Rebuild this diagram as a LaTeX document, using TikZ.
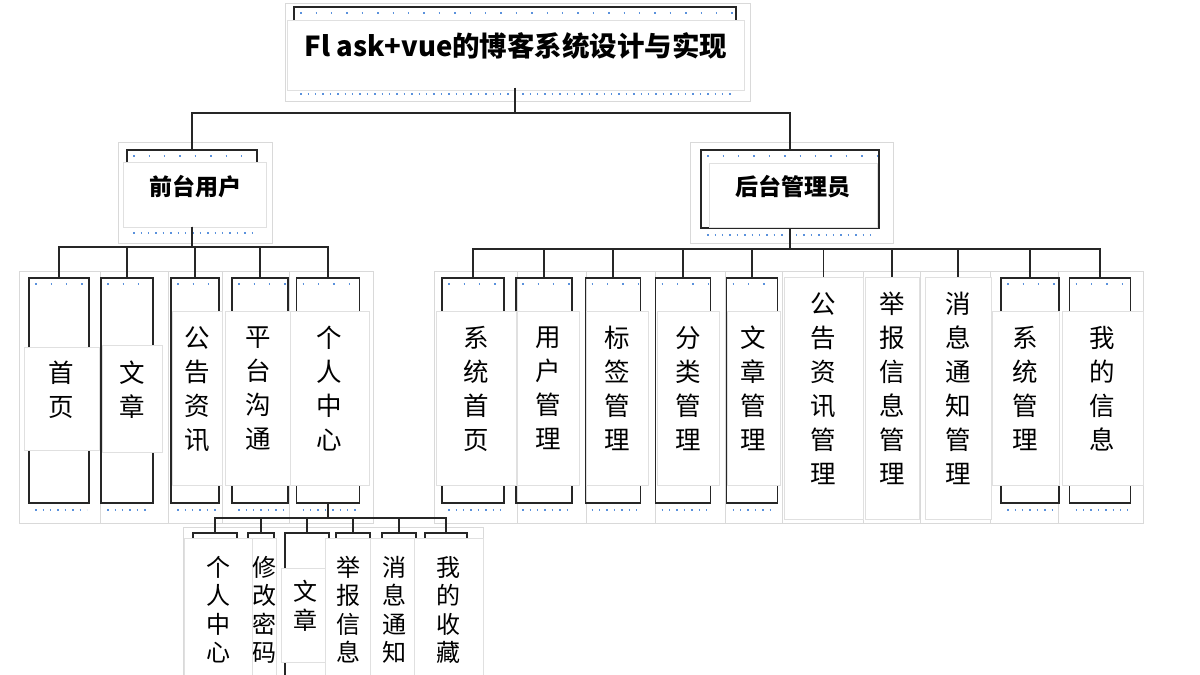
\documentclass[tikz,border=0pt]{standalone}
\usepackage{fontspec}
\newfontfamily\cjk{Noto Sans CJK SC}
\definecolor{dotblue}{RGB}{90,145,220}
\tikzset{
  light/.style={draw=black!15, line width=0.8pt},
  frame/.style={draw=black!85, line width=1.8pt, inner sep=0pt},
  dots/.style={draw=dotblue, line width=1.4pt, dash pattern=on 1.4pt off 14pt},
  fdots/.style={draw=dotblue, line width=1.4pt, dash pattern=on 1.4pt off 6pt},
  box/.style={draw=black!12, fill=white, line width=0.8pt, inner sep=0pt,
    align=center, text depth=20pt, font=\cjk\fontsize{25.5}{34}\selectfont},
  gbox/.style={box, font=\cjk\fontsize{24}{28.5}\selectfont},
  head/.style={box, font=\cjk\bfseries\fontsize{23}{28}\selectfont},
  link/.style={draw=black!85, line width=1.8pt},
}
\begin{document}
\begin{tikzpicture}[x=1pt,y=-1pt]
\useasboundingbox (0,0) rectangle (1200,675);
\clip (0,0) rectangle (1200,675);

\draw[light] (285,3) rectangle (750,101);
\draw[light] (118,142) rectangle (272,243);
\draw[light] (690,142) rectangle (893,243);
\foreach \a/\b in {19/100,100/168,168/222,222/289,289/373,434/517,517/586,586/655,
  655/725,725/782,782/863,863/920,920/990,990/1058,1058/1143}
  \draw[light] (\a,271) rectangle (\b,523);
\draw[light] (183,527) rectangle (483,690);

\node[frame, minimum width=442, minimum height=80] (tf) at (515,47) {};
\node[frame, minimum width=130, minimum height=76] (qf) at (192,188) {};
\node[frame, minimum width=178, minimum height=78] (hf) at (790,189) {};

\node[frame, minimum width=60, minimum height=225] (cf1) at (59,390.5) {};
\node[frame, minimum width=52, minimum height=225] (cf2) at (127,390.5) {};
\node[frame, minimum width=48, minimum height=225] (cf3) at (195,390.5) {};
\node[frame, minimum width=56, minimum height=225] (cf4) at (260,390.5) {};
\node[frame, minimum width=63, minimum height=225] (cf5) at (328,390.5) {};

\node[frame, minimum width=62, minimum height=225] (rf1) at (473,390.5) {};
\node[frame, minimum width=56, minimum height=225] (rf2) at (544,390.5) {};
\node[frame, minimum width=55, minimum height=225] (rf3) at (613,390.5) {};
\node[frame, minimum width=55, minimum height=225] (rf4) at (683,390.5) {};
\node[frame, minimum width=51, minimum height=225] (rf5) at (752,390.5) {};
\node[frame, minimum width=58, minimum height=225] (rf9) at (1030,390.5) {};
\node[frame, minimum width=61, minimum height=225] (rf10) at (1100,390.5) {};

\node[frame, minimum width=44, minimum height=170] (gf1) at (215,618) {};
\node[frame, minimum width=26, minimum height=170] (gf2) at (261,618) {};
\node[frame, minimum width=44, minimum height=170] (gf3) at (307,618) {};
\node[frame, minimum width=34, minimum height=170] (gf4) at (353,618) {};
\node[frame, minimum width=34, minimum height=170] (gf5) at (399,618) {};
\node[frame, minimum width=42, minimum height=170] (gf6) at (446,618) {};

\foreach \n in {tf,qf,hf,cf1,cf2,cf3,cf4,cf5,rf1,rf2,rf3,rf4,rf5,rf9,rf10} {
  \draw[dots] ([xshift=7,yshift=-7]\n.north west) -- ([xshift=-3,yshift=-7]\n.north east);
  \draw[fdots] ([xshift=7,yshift=-6]\n.south west) -- ([xshift=-3,yshift=-6]\n.south east);
}

\node[head, minimum width=457, minimum height=70, font=\cjk\bfseries\fontsize{27.5}{30}\selectfont] (title) at (516,55) {Fl ask+vue的博客系统设计与实现};
\node[head, minimum width=143, minimum height=65] (qt) at (195,195) {前台用户};
\node[head, minimum width=168, minimum height=64] (ht) at (793,195) {后台管理员};

\node[box, minimum width=75, minimum height=103] (c1) at (61.5,398.5) {首\\页};
\node[box, minimum width=60, minimum height=107] (c2) at (132,398.5) {文\\章};
\node[box, minimum width=50, minimum height=174] (c3) at (197,398) {公\\告\\资\\讯};
\node[box, minimum width=65, minimum height=174] (c4) at (258,398) {平\\台\\沟\\通};
\node[box, minimum width=79, minimum height=174] (c5) at (329.5,398) {个\\人\\中\\心};

\node[box, minimum width=80, minimum height=174] (r1) at (476,398) {系\\统\\首\\页};
\node[box, minimum width=62, minimum height=174] (r2) at (548,398) {用\\户\\管\\理};
\node[box, minimum width=62, minimum height=174] (r3) at (617,398) {标\\签\\管\\理};
\node[box, minimum width=62, minimum height=174] (r4) at (688,398) {分\\类\\管\\理};
\node[box, minimum width=53, minimum height=174] (r5) at (753.5,398) {文\\章\\管\\理};
\node[box, minimum width=79, minimum height=242] (r6) at (823.5,398) {公\\告\\资\\讯\\管\\理};
\node[box, minimum width=54, minimum height=242] (r7) at (892,398) {举\\报\\信\\息\\管\\理};
\node[box, minimum width=66, minimum height=242] (r8) at (958,398) {消\\息\\通\\知\\管\\理};
\node[box, minimum width=67, minimum height=174] (r9) at (1025.5,398) {系\\统\\管\\理};
\node[box, minimum width=81, minimum height=174] (r10) at (1102.5,398) {我\\的\\信\\息};

\node[gbox, minimum width=69, minimum height=162] (g1) at (218.5,619) {个\\人\\中\\心};
\node[gbox, minimum width=24, minimum height=162] (g2) at (264.5,619) {修\\改\\密\\码};
\node[gbox, minimum width=47, minimum height=94] (g3) at (305,615) {文\\章};
\node[gbox, minimum width=46, minimum height=162] (g4) at (348,619) {举\\报\\信\\息};
\node[gbox, minimum width=47, minimum height=162] (g5) at (394,619) {消\\息\\通\\知};
\node[gbox, minimum width=69, minimum height=162] (g6) at (448.5,619) {我\\的\\收\\藏};

\draw[link] (tf.south) -- ++(0,25) -| (qf.north);
\draw[link] (tf.south) -- ++(0,25) -| (hf.north);
\foreach \n in {cf1,cf2,cf3,cf4,cf5}
  \draw[link] (qf.south) -- ++(0,20) -| (\n.north);
\foreach \n in {rf1,rf2,rf3,rf4,rf5,r6,r7,r8,rf9,rf10}
  \draw[link] (hf.south) -- ++(0,20) -| (\n.north);
\foreach \n in {gf1,gf2,gf3,gf4,gf5,gf6}
  \draw[link] (cf5.south) -- ++(0,14) -| (\n.north);
\end{tikzpicture}
\end{document}
